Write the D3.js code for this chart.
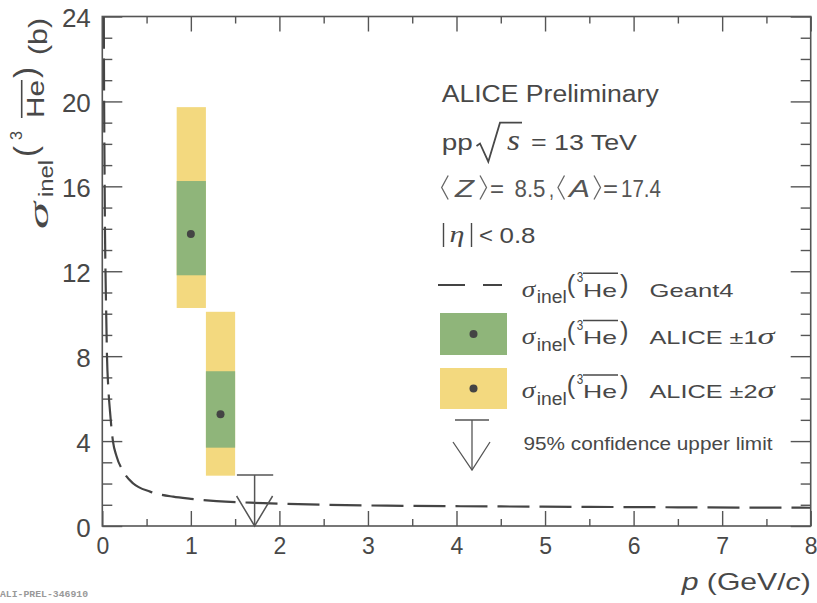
<!DOCTYPE html>
<html><head><meta charset="utf-8">
<script src="https://cdn.jsdelivr.net/npm/d3@7/dist/d3.min.js"></script>
<style>body{margin:0;background:#fff}svg{display:block}</style>
</head><body><svg id="c" width="817" height="603"></svg>
<script>
// ---------- data ----------
const xTicks = [0, 1, 2, 3, 4, 5, 6, 7, 8];
const xMinorTicks = [0.5, 1.5, 2.5, 3.5, 4.5, 5.5, 6.5, 7.5];
const yTicks = [0, 4, 8, 12, 16, 20, 24];
const yMinorTicks = [1, 2, 3, 5, 6, 7, 9, 10, 11, 13, 14, 15, 17, 18, 19, 21, 22, 23];

// Geant4 expectation
const geantP     = [0.017, 0.02, 0.025, 0.03, 0.036, 0.045, 0.053, 0.068, 0.087, 0.12, 0.16, 0.24, 0.35, 0.54, 0.8, 1.0, 1.29, 1.82, 2.49, 3.44, 4.5, 5.5, 6.5, 8.0];
const geantSigma = [24, 20.5, 17, 14, 12, 9.8, 8, 6.5, 5.4, 4.0, 3.3, 2.55, 2.0, 1.62, 1.38, 1.28, 1.17, 1.08, 1.0, 0.95, 0.92, 0.9, 0.88, 0.86];

// ALICE measurement
const aliceP       = [1.0, 1.335];
const aliceBinLow  = [0.84, 1.17];
const aliceBinHigh = [1.17, 1.50];
const aliceSigma   = [13.76, 5.26];
const alice1Low    = [11.81, 3.69];
const alice1High   = [16.25, 7.29];
const alice2Low    = [10.27, 2.37];
const alice2High   = [19.73, 10.09];

// 95% CL upper limit
const limitP       = [1.72];
const limitBinLow  = [1.52];
const limitBinHigh = [1.93];
const limitSigma   = [2.4];

// ---------- layout ----------
const svg = d3.select('#c');
const L = 102.3, R = 810.7, T = 16.5, B = 526;
const x = d3.scaleLinear().domain([0, 8]).range([L, R]);
const y = d3.scaleLinear().domain([0, 24]).range([B, T]);
const SANS = '"Liberation Sans", Arial, Helvetica, sans-serif';
const SERIF = '"Liberation Serif", "Times New Roman", serif';
const INK = '#484848';
const AX = '#555';
const GREEN = '#8fb57a', YELLOW = '#f3d97f';

function txt(g, s, px, py, size, o = {}) {
  const t = g.append('text').attr('x', px).attr('y', py)
    .attr('font-size', size).attr('fill', o.fill || INK)
    .attr('font-family', o.serif ? SERIF : SANS).text(s);
  if (o.italic) t.attr('font-style', 'italic');
  if (o.w) t.attr('textLength', o.w).attr('lengthAdjust', 'spacingAndGlyphs');
  if (o.anchor) t.attr('text-anchor', o.anchor);
  return t;
}

// ---------- axes ----------
function styleAxis(g) {
  g.select('.domain').remove();
  g.selectAll('.tick line').attr('stroke', AX).attr('stroke-width', 1.4);
  g.selectAll('.tick text').attr('fill', INK).attr('font-family', SANS);
}
const gxb = svg.append('g').attr('transform', `translate(0,${B})`)
  .call(d3.axisBottom(x).tickValues(xTicks).tickSize(-15).tickPadding(12).tickFormat(d3.format('d')));
styleAxis(gxb); gxb.selectAll('.tick text').attr('font-size', 23);
const gxbm = svg.append('g').attr('transform', `translate(0,${B})`)
  .call(d3.axisBottom(x).tickValues(xMinorTicks).tickSize(-7).tickFormat(''));
styleAxis(gxbm);
const gxt = svg.append('g').attr('transform', `translate(0,${T})`)
  .call(d3.axisTop(x).tickValues(xTicks).tickSize(-15).tickFormat(''));
styleAxis(gxt);
const gxtm = svg.append('g').attr('transform', `translate(0,${T})`)
  .call(d3.axisTop(x).tickValues(xMinorTicks).tickSize(-7).tickFormat(''));
styleAxis(gxtm);

const gyl = svg.append('g').attr('transform', `translate(${L},0)`)
  .call(d3.axisLeft(y).tickValues(yTicks).tickSize(-20).tickPadding(11.5).tickFormat(d3.format('d')));
styleAxis(gyl); gyl.selectAll('.tick text').attr('font-size', 26).attr('dy', '0.4em');
const gylm = svg.append('g').attr('transform', `translate(${L},0)`)
  .call(d3.axisLeft(y).tickValues(yMinorTicks).tickSize(-10).tickFormat(''));
styleAxis(gylm);
const gyr = svg.append('g').attr('transform', `translate(${R},0)`)
  .call(d3.axisRight(y).tickValues(yTicks).tickSize(-20).tickFormat(''));
styleAxis(gyr);
const gyrm = svg.append('g').attr('transform', `translate(${R},0)`)
  .call(d3.axisRight(y).tickValues(yMinorTicks).tickSize(-10).tickFormat(''));
styleAxis(gyrm);

// ---------- plot content ----------
svg.append('clipPath').attr('id', 'plotclip').append('rect')
  .attr('x', L).attr('y', T).attr('width', R - L).attr('height', B - T);
const plot = svg.append('g').attr('clip-path', 'url(#plotclip)');

const boxes = aliceP.map((p, i) => ({p, lo: aliceBinLow[i], hi: aliceBinHigh[i], s: aliceSigma[i],
  l1: alice1Low[i], h1: alice1High[i], l2: alice2Low[i], h2: alice2High[i]}));
plot.selectAll('rect.b2').data(boxes).join('rect').attr('class', 'b2')
  .attr('x', d => x(d.lo)).attr('width', d => x(d.hi) - x(d.lo))
  .attr('y', d => y(d.h2)).attr('height', d => y(d.l2) - y(d.h2)).attr('fill', YELLOW);
plot.selectAll('rect.b1').data(boxes).join('rect').attr('class', 'b1')
  .attr('x', d => x(d.lo)).attr('width', d => x(d.hi) - x(d.lo))
  .attr('y', d => y(d.h1)).attr('height', d => y(d.l1) - y(d.h1)).attr('fill', GREEN);

const geant = geantP.map((p, i) => [p, geantSigma[i]]);
plot.append('path').datum(geant)
  .attr('d', d3.line().x(d => x(d[0])).y(d => y(d[1])).curve(d3.curveMonotoneX))
  .attr('fill', 'none').attr('stroke', '#444').attr('stroke-width', 2.2).attr('stroke-dasharray', '32,10');

plot.selectAll('circle.pt').data(boxes).join('circle').attr('class', 'pt')
  .attr('cx', d => x(d.p)).attr('cy', d => y(d.s)).attr('r', 4).attr('fill', '#444');

// upper limit
limitP.forEach((p, i) => {
  const g = svg.append('g').attr('stroke', AX).attr('stroke-width', 1.5).attr('fill', 'none');
  g.append('line').attr('x1', x(limitBinLow[i])).attr('x2', x(limitBinHigh[i]))
    .attr('y1', y(limitSigma[i])).attr('y2', y(limitSigma[i]));
  g.append('line').attr('x1', x(p)).attr('x2', x(p)).attr('y1', y(limitSigma[i])).attr('y2', y(0));
  g.append('path').attr('d', `M${x(p) - 18},${y(0) - 30}L${x(p)},${y(0)}L${x(p) + 18},${y(0) - 30}`);
});

// frame
svg.append('rect').attr('x', L).attr('y', T).attr('width', R - L).attr('height', B - T)
  .attr('fill', 'none').attr('stroke', AX).attr('stroke-width', 1.6);

// ---------- texts ----------
const tg = svg.append('g');
txt(tg, 'ALICE Preliminary', 441.7, 102, 23, {w: 217});
txt(tg, 'pp', 441.7, 149.5, 22, {w: 31});
tg.append('path').attr('d', 'M476.5,146L480,143.5L488.3,161.7L500,122.7L522,122.7')
  .attr('fill', 'none').attr('stroke', INK).attr('stroke-width', 1.8);
txt(tg, 's', 507, 149.5, 30, {serif: true, italic: true, w: 13});
txt(tg, '= 13 TeV', 531, 149.5, 22, {w: 106});

// <Z> = 8.5, <A> = 17.4
const lg = svg.append('g');
const brk = (x0, dir) => lg.append('path')
  .attr('d', `M${x0 + dir * 6.5},175.5L${x0},187.5L${x0 + dir * 6.5},199.5`)
  .attr('fill', 'none').attr('stroke', '#666').attr('stroke-width', 1.3);
brk(441.7, 1); brk(486.5, -1); brk(558, 1); brk(600.5, -1);
txt(lg, 'Z', 455, 197, 24, {italic: true, fill: '#555', w: 19});
txt(lg, '=', 490, 197, 23, {fill: '#555', w: 14});
txt(lg, '8.5', 514.5, 197, 23, {fill: '#555', w: 31});
txt(lg, ',', 549, 197, 23, {fill: '#555', w: 5});
txt(lg, 'A', 569, 197, 24, {italic: true, fill: '#555', w: 21});
txt(lg, '=', 603, 197, 23, {fill: '#555', w: 15});
txt(lg, '17.4', 621, 197, 23, {fill: '#555', w: 40});

// |eta| < 0.8
tg.append('line').attr('x1', 443.5).attr('x2', 443.5).attr('y1', 223).attr('y2', 247)
  .attr('stroke', INK).attr('stroke-width', 1.4);
txt(tg, 'η', 449.5, 242, 24, {serif: true, italic: true, w: 15});
tg.append('line').attr('x1', 471.5).attr('x2', 471.5).attr('y1', 223).attr('y2', 247)
  .attr('stroke', INK).attr('stroke-width', 1.4);
txt(tg, '<', 479, 243, 22, {w: 14});
txt(tg, '0.8', 499.5, 243, 22, {w: 36});

// sigma_inel(3He) composite label
function sigmaHe(g, x0, y0) {
  txt(g, 'σ', x0, y0, 23, {serif: true, italic: true, w: 13.5});
  txt(g, 'inel', x0 + 15, y0 + 6.5, 18, {w: 30});
  txt(g, '(', x0 + 45, y0 - 4, 26, {w: 8.5});
  txt(g, '3', x0 + 55, y0 - 14.4, 14, {w: 6.5});
  txt(g, 'He', x0 + 61.3, y0, 19, {w: 34});
  g.append('line').attr('x1', x0 + 61.3).attr('x2', x0 + 96.3)
    .attr('y1', y0 - 23.4).attr('y2', y0 - 23.4).attr('stroke', INK).attr('stroke-width', 1.5);
  txt(g, ')', x0 + 98.3, y0 - 4, 26, {w: 8.5});
}

// legend
const leg = svg.append('g');
leg.append('line').attr('x1', 438).attr('x2', 502).attr('y1', 285).attr('y2', 285)
  .attr('stroke', '#444').attr('stroke-width', 2.2).attr('stroke-dasharray', '27,18');
sigmaHe(leg, 521.7, 296.7);
txt(leg, 'Geant4', 649.5, 296.7, 19, {w: 84});

leg.append('rect').attr('x', 440).attr('y', 313).attr('width', 67).attr('height', 42).attr('fill', GREEN);
leg.append('circle').attr('cx', 473.5).attr('cy', 334).attr('r', 4).attr('fill', '#444');
sigmaHe(leg, 521.7, 344);
txt(leg, 'ALICE ±1', 649.5, 344, 19, {w: 108});
txt(leg, 'σ', 757.5, 344, 23, {serif: true, italic: true, w: 17});

leg.append('rect').attr('x', 440).attr('y', 368).attr('width', 67).attr('height', 41).attr('fill', YELLOW);
leg.append('circle').attr('cx', 473.5).attr('cy', 388.5).attr('r', 4).attr('fill', '#444');
sigmaHe(leg, 521.7, 398.3);
txt(leg, 'ALICE ±2', 649.5, 398.3, 19, {w: 108});
txt(leg, 'σ', 757.5, 398.3, 23, {serif: true, italic: true, w: 17});

const ul = leg.append('g').attr('stroke', AX).attr('stroke-width', 1.3).attr('fill', 'none');
ul.append('line').attr('x1', 455).attr('x2', 489).attr('y1', 420).attr('y2', 420);
ul.append('line').attr('x1', 472).attr('x2', 472).attr('y1', 420).attr('y2', 470);
ul.append('path').attr('d', 'M453,442L472,470L490,442');
txt(leg, '95% confidence upper limit', 523.5, 450, 18, {w: 249});

// x title
const xt = svg.append('text').attr('x', R).attr('y', 590).attr('text-anchor', 'end')
  .attr('font-size', 24).attr('font-family', SANS).attr('fill', INK)
  .attr('textLength', 129).attr('lengthAdjust', 'spacingAndGlyphs');
xt.append('tspan').attr('font-style', 'italic').text('p');
xt.append('tspan').text(' (GeV/');
xt.append('tspan').attr('font-style', 'italic').text('c');
xt.append('tspan').text(')');

// y title (rotated): local u = -screenY, v = screenX
const yt = svg.append('g').attr('transform', 'rotate(-90)');
txt(yt, 'σ', -229, 48, 28, {serif: true, italic: true, w: 27});
txt(yt, 'inel', -197, 53.3, 21, {w: 37});
txt(yt, '(', -157, 36.3, 32, {w: 11});
txt(yt, '3', -140, 21.7, 16, {w: 9});
txt(yt, 'He', -118, 44, 24, {w: 38});
yt.append('line').attr('x1', -118).attr('x2', -80).attr('y1', 21.7).attr('y2', 21.7)
  .attr('stroke', INK).attr('stroke-width', 1.6);
txt(yt, ')', -78, 36.3, 32, {w: 11});
txt(yt, '(b)', -55, 47, 26, {w: 37});

// watermark
txt(svg, 'ALI-PREL-346910', 0, 597, 9.8, {fill: '#999', w: 88})
  .attr('font-family', '"Liberation Mono", "Courier New", monospace').attr('font-weight', 'bold');
</script></body></html>
